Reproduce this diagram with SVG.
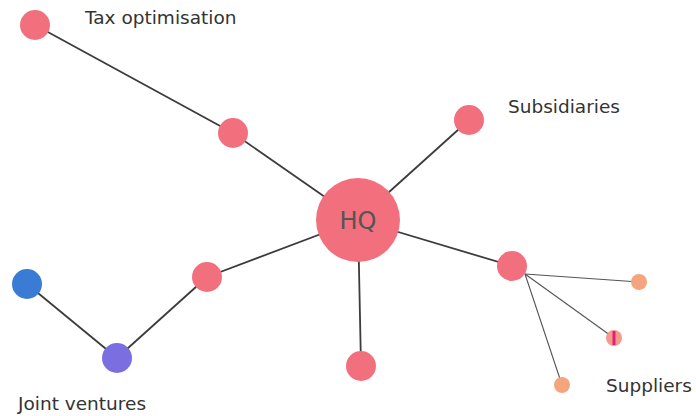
<svg xmlns="http://www.w3.org/2000/svg" width="696" height="416" viewBox="0 0 696 416">
<style>
.e{stroke:#3c3c3c;stroke-width:1.8;fill:none}
.t{stroke:#555;stroke-width:1.1;fill:none}
.p{fill:#f2707e}
.o{fill:#f5a57e}
.lbl{font-family:"DejaVu Sans",sans-serif;font-size:18.5px;fill:#333}
</style>
<rect width="696" height="416" fill="#fff"/>
<g id="connectors">
<line class="e" x1="35" y1="25" x2="233" y2="133"/>
<line class="e" x1="233" y1="133" x2="358" y2="220"/>
<line class="e" x1="358" y1="220" x2="469" y2="120"/>
<line class="e" x1="358" y1="220" x2="512" y2="266"/>
<line class="e" x1="358" y1="220" x2="361" y2="366"/>
<line class="e" x1="358" y1="220" x2="207" y2="277"/>
<line class="e" x1="207" y1="277" x2="117" y2="358"/>
<line class="e" x1="117" y1="358" x2="27" y2="284"/>
<line class="t" x1="525" y1="274" x2="639" y2="282"/>
<line class="t" x1="525" y1="274" x2="614" y2="338"/>
<line class="t" x1="525" y1="274" x2="562" y2="385"/>
</g>
<g id="tax"><circle class="p" cx="35" cy="25" r="15"/><text class="lbl" x="85" y="24">Tax optimisation</text></g>
<g id="tax-mid"><circle class="p" cx="233" cy="133" r="15"/></g>
<g id="hq"><circle class="p" cx="358" cy="220" r="42"/><text x="358" y="229" text-anchor="middle" font-family="DejaVu Sans, sans-serif" font-size="24" fill="#555">HQ</text></g>
<g id="subsidiaries"><circle class="p" cx="469" cy="120" r="15"/><text class="lbl" x="508" y="113">Subsidiaries</text></g>
<g id="supplier-hub"><circle class="p" cx="512" cy="266" r="15"/></g>
<g id="supplier1"><circle class="o" cx="639" cy="282" r="8"/></g>
<g id="supplier2"><circle cx="614" cy="338" r="8" fill="#f59a8a"/><line x1="614" y1="331" x2="614" y2="345" stroke="#e0207a" stroke-width="3"/></g>
<g id="supplier3"><circle class="o" cx="562" cy="385" r="8"/><text class="lbl" x="606" y="392">Suppliers</text></g>
<g id="bottom"><circle class="p" cx="361" cy="366" r="15"/></g>
<g id="jv-mid"><circle class="p" cx="207" cy="277" r="15"/></g>
<g id="jv-purple"><circle cx="117" cy="358" r="15" fill="#7b6ee0"/></g>
<g id="jv-blue"><circle cx="27" cy="284" r="15" fill="#3a7bd5"/><text class="lbl" x="18" y="410">Joint ventures</text></g>
</svg>
